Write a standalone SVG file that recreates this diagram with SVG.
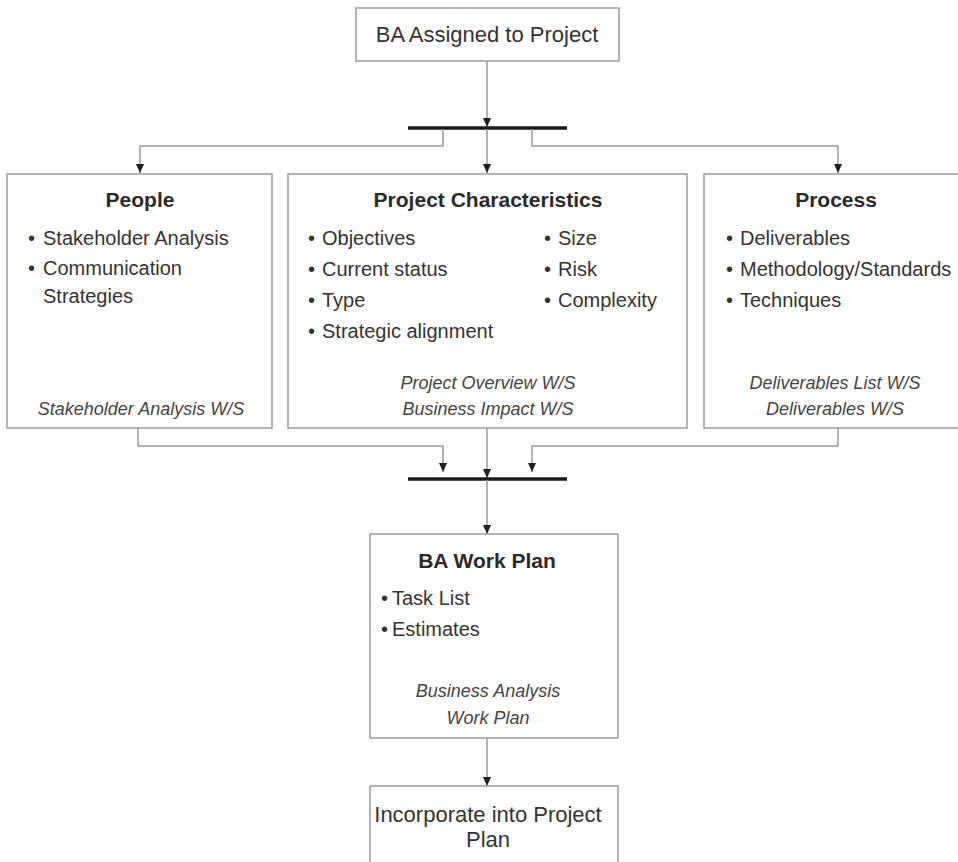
<svg xmlns="http://www.w3.org/2000/svg" width="958" height="862" viewBox="0 0 958 862">
  <style>
    .box { fill: #ffffff; stroke: #9a9a9a; stroke-width: 1.5; }
    .txt { font-family: "Liberation Sans", Arial, sans-serif; fill: #333333; }
    .plain { font-size: 22px; }
    .title { font-size: 21px; font-weight: bold; fill: #2a2a2a; }
    .item { font-size: 20px; }
    .note { font-size: 18px; font-style: italic; fill: #444444; }
    .mid { text-anchor: middle; }
    .link { fill: none; stroke: #9a9a9a; stroke-width: 1.5; }
    .bar { stroke: #1a1a1a; stroke-width: 3.5; }
  </style>
  <defs>
    <marker id="arrow" viewBox="0 0 10 10" refX="10" refY="5" markerWidth="11" markerHeight="9" markerUnits="userSpaceOnUse" orient="auto">
      <path d="M0,0.5 L10,5 L0,9.5 z" fill="#1f1f1f"/>
    </marker>
  </defs>

  <rect width="958" height="862" fill="#ffffff"/>

  <!-- connectors and sync bars -->
  <g id="connectors">
    <line class="link" x1="487" y1="61" x2="487" y2="127" marker-end="url(#arrow)"/>
    <line class="bar" x1="408" y1="128" x2="567" y2="128"/>
    <line class="link" x1="487" y1="129" x2="487" y2="173" marker-end="url(#arrow)"/>
    <polyline class="link" points="443,129 443,146 140,146 140,173" marker-end="url(#arrow)"/>
    <polyline class="link" points="532,129 532,146 838,146 838,173" marker-end="url(#arrow)"/>

    <polyline class="link" points="138,428 138,446 443,446 443,472" marker-end="url(#arrow)"/>
    <line class="link" x1="487" y1="428" x2="487" y2="478" marker-end="url(#arrow)"/>
    <polyline class="link" points="838,428 838,446 532,446 532,472" marker-end="url(#arrow)"/>
    <line class="bar" x1="408" y1="479" x2="567" y2="479"/>
    <line class="link" x1="487" y1="480" x2="487" y2="534" marker-end="url(#arrow)"/>

    <line class="link" x1="487" y1="738" x2="487" y2="786" marker-end="url(#arrow)"/>
  </g>

  <g id="ba-assigned">
    <rect class="box" x="356" y="8" width="263" height="53"/>
    <text class="txt plain mid" x="487" y="42">BA Assigned to Project</text>
  </g>

  <g id="people">
    <rect class="box" x="7" y="174" width="265" height="254"/>
    <text class="txt title mid" x="140" y="207">People</text>
    <text class="txt item" x="28" y="245">•</text>
    <text class="txt item" x="43" y="245">Stakeholder Analysis</text>
    <text class="txt item" x="28" y="275">•</text>
    <text class="txt item" x="43" y="275">Communication</text>
    <text class="txt item" x="43" y="303">Strategies</text>
    <text class="txt note mid" x="141" y="415">Stakeholder Analysis W/S</text>
  </g>

  <g id="project-characteristics">
    <rect class="box" x="288" y="174" width="399" height="254"/>
    <text class="txt title mid" x="488" y="207">Project Characteristics</text>
    <text class="txt item" x="308" y="245">•</text>
    <text class="txt item" x="322" y="245">Objectives</text>
    <text class="txt item" x="308" y="276">•</text>
    <text class="txt item" x="322" y="276">Current status</text>
    <text class="txt item" x="308" y="307">•</text>
    <text class="txt item" x="322" y="307">Type</text>
    <text class="txt item" x="308" y="338">•</text>
    <text class="txt item" x="322" y="338">Strategic alignment</text>
    <text class="txt item" x="544" y="245">•</text>
    <text class="txt item" x="558" y="245">Size</text>
    <text class="txt item" x="544" y="276">•</text>
    <text class="txt item" x="558" y="276">Risk</text>
    <text class="txt item" x="544" y="307">•</text>
    <text class="txt item" x="558" y="307">Complexity</text>
    <text class="txt note mid" x="488" y="389">Project Overview W/S</text>
    <text class="txt note mid" x="488" y="415">Business Impact W/S</text>
  </g>

  <g id="process">
    <rect class="box" x="704" y="174" width="264" height="254"/>
    <text class="txt title mid" x="836" y="207">Process</text>
    <text class="txt item" x="726" y="245">•</text>
    <text class="txt item" x="740" y="245">Deliverables</text>
    <text class="txt item" x="726" y="276">•</text>
    <text class="txt item" x="740" y="276">Methodology/Standards</text>
    <text class="txt item" x="726" y="307">•</text>
    <text class="txt item" x="740" y="307">Techniques</text>
    <text class="txt note mid" x="835" y="389">Deliverables List W/S</text>
    <text class="txt note mid" x="835" y="415">Deliverables W/S</text>
  </g>

  <g id="ba-work-plan">
    <rect class="box" x="370" y="534" width="248" height="204"/>
    <text class="txt title mid" x="487" y="568">BA Work Plan</text>
    <text class="txt item" x="381" y="605">•</text>
    <text class="txt item" x="392" y="605">Task List</text>
    <text class="txt item" x="381" y="636">•</text>
    <text class="txt item" x="392" y="636">Estimates</text>
    <text class="txt note mid" x="488" y="697">Business Analysis</text>
    <text class="txt note mid" x="488" y="724">Work Plan</text>
  </g>

  <g id="incorporate">
    <rect class="box" x="370" y="786" width="248" height="90"/>
    <text class="txt plain mid" x="488" y="822">Incorporate into Project</text>
    <text class="txt plain mid" x="488" y="847">Plan</text>
  </g>
</svg>
